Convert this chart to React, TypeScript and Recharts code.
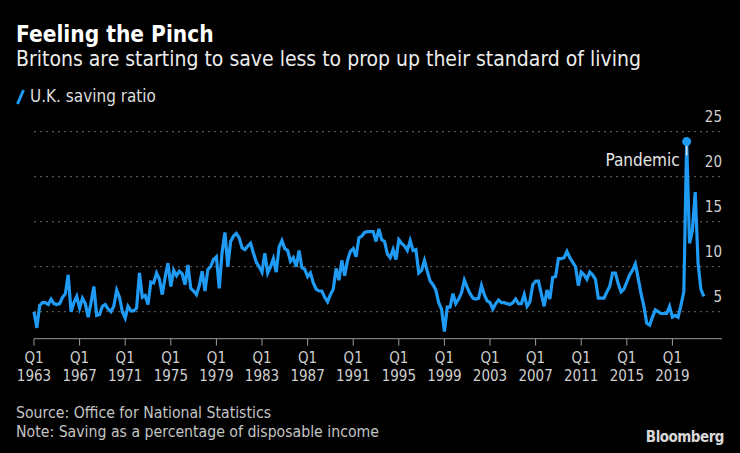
import { LineChart, Line, XAxis, YAxis, CartesianGrid } from 'recharts'

const startYear = 1963

// UK household saving ratio, % of disposable income, one row per year (Q1..Q4)
const savingRatio = [
  5.0, 3.2, 5.7, 6.0,
  6.0, 5.8, 6.4, 5.9,
  5.8, 5.9, 6.6, 7.0,
  9.1, 5.0, 6.0, 6.7,
  5.4, 6.5, 5.9, 4.4,
  6.0, 7.8, 4.6, 4.7,
  5.6, 5.8, 5.3, 5.0,
  5.6, 7.4, 6.6, 5.0,
  4.3, 5.6, 5.1, 5.1,
  5.4, 9.3, 6.6, 6.8,
  5.8, 8.3, 8.2, 9.3,
  8.6, 6.9, 8.8, 10.4,
  7.8, 9.6, 9.0, 9.5,
  9.2, 8.0, 10.2, 7.6,
  7.3, 6.9, 7.9, 9.5,
  7.3, 9.7, 10.0, 10.8,
  11.1, 7.6, 11.6, 13.8,
  10.0, 12.8, 13.4, 13.7,
  13.2, 12.1, 11.9, 12.3,
  12.6, 11.5, 10.5, 10.0,
  9.4, 11.5, 9.3, 10.0,
  10.9, 9.4, 12.2, 12.9,
  12.0, 11.8, 10.6, 11.0,
  10.0, 11.8, 9.9, 9.7,
  8.9, 9.3, 8.2, 7.5,
  7.3, 7.3, 6.6, 6.1,
  6.9, 7.5, 9.8, 8.5,
  10.7, 9.0, 10.7, 11.7,
  12.0, 11.1, 13.2, 13.4,
  13.8, 13.9, 13.9, 13.9,
  12.8, 14.2, 13.0, 12.8,
  11.4, 11.0, 11.9, 10.8,
  13.0, 12.6, 12.3, 11.8,
  12.9, 11.8, 11.9, 9.3,
  9.6, 10.7, 9.5, 8.4,
  8.0, 7.4, 6.0, 5.3,
  2.8, 5.5, 5.5, 7.0,
  5.9, 6.4, 7.1, 8.5,
  7.7, 7.0, 6.5, 6.4,
  6.5, 7.9, 6.9, 6.2,
  6.0, 5.3, 5.9, 6.3,
  6.0, 6.0, 5.9, 5.8,
  6.0, 6.4, 5.9, 5.9,
  6.9, 5.6, 6.1, 8.0,
  8.4, 8.4, 7.0, 5.6,
  7.4, 6.4, 8.8, 8.9,
  10.9, 10.9, 11.0, 11.7,
  11.0, 10.5, 10.0, 7.9,
  9.4, 9.1, 8.6, 9.4,
  9.1, 8.6, 6.5, 6.5,
  6.5, 7.2, 7.8, 9.3,
  9.3, 8.1, 7.2, 7.5,
  8.3, 9.1, 9.6, 10.3,
  8.7, 7.0, 5.6, 3.7,
  3.5, 4.4, 5.2, 5.0,
  4.8, 4.8, 4.8, 5.6,
  4.4, 4.6, 4.4, 5.7,
  7.2, 23.9, 12.6, 14.0,
  18.3, 10.4, 7.5, 6.7,
]

const xTickYears = [1963, 1967, 1971, 1975, 1979, 1983, 1987, 1991, 1995, 1999, 2003, 2007, 2011, 2015, 2019]
const yTicks = [5, 10, 15, 20, 25]
const annotatedQuarter = 'Q2 2020'
const annotationLabel = 'Pandemic'

const data = savingRatio.map((v, i) => ({
  i,
  quarter: `Q${(i % 4) + 1} ${startYear + Math.floor(i / 4)}`,
  value: v,
}))

const xTicks = xTickYears.map((y) => (y - startYear) * 4)

const FONT = "'DejaVu Sans Condensed', 'Liberation Sans Narrow', Roboto, sans-serif"
const BLUE = '#1f9bf5'

const XTick = ({ x, y, payload }: any) => {
  const year = startYear + payload.value / 4
  return (
    <g>
      <text x={x} y={y + 15} textAnchor="middle" fill="#cfcfcf" fontSize={15} fontFamily={FONT}>
        Q1
      </text>
      <text x={x} y={y + 33} textAnchor="middle" fill="#cfcfcf" fontSize={15} fontFamily={FONT}>
        {year}
      </text>
    </g>
  )
}

const YTick = ({ x, y, payload }: any) => (
  <text x={x} y={y - 10} textAnchor="end" fill="#cfcfcf" fontSize={15} fontFamily={FONT}>
    {payload.value}
  </text>
)

const PeakDot = (props: any) => {
  const { cx, cy, payload } = props
  if (payload.quarter !== annotatedQuarter) return <g key={props.key} />
  return (
    <g key={props.key}>
      <line x1={cx} y1={cy} x2={cx} y2={cy + 14} stroke="#e0e0e0" strokeWidth={1.5} />
      <circle cx={cx} cy={cy} r={4.5} fill={BLUE} />
      <text x={cx - 7} y={cy + 24} textAnchor="end" fill="#e6e6e6" fontSize={17} fontFamily={FONT}>
        {annotationLabel}
      </text>
    </g>
  )
}

export default function App() {
  return (
    <div
      style={{
        position: 'fixed',
        left: 0,
        top: 0,
        width: 740,
        height: 453,
        background: '#000',
        fontFamily: FONT,
        color: '#fff',
        overflow: 'hidden',
      }}
    >
      <div style={{ position: 'absolute', left: 16, top: 21, fontSize: 22.5, fontWeight: 700 }}>
        Feeling the Pinch
      </div>
      <div style={{ position: 'absolute', left: 16, top: 47, fontSize: 21, color: '#ececec' }}>
        Britons are starting to save less to prop up their standard of living
      </div>
      <div
        style={{
          position: 'absolute',
          left: 16,
          top: 86,
          fontSize: 17,
          color: '#dcdcdc',
          display: 'flex',
          alignItems: 'center',
        }}
      >
        <svg width={9} height={17} style={{ marginRight: 5 }}>
          <line x1={1.5} y1={16} x2={7.5} y2={2} stroke={BLUE} strokeWidth={3} />
        </svg>
        U.K. saving ratio
      </div>

      <div style={{ position: 'absolute', left: 0, top: 0 }}>
        <LineChart
          width={740}
          height={453}
          data={data}
          margin={{ top: 131.7, right: 0, bottom: 74.3, left: 34 }}
        >
          <CartesianGrid
            vertical={false}
            stroke="#6a6a6a"
            strokeDasharray="2 4"
            horizontalValues={yTicks}
          />
          <XAxis
            dataKey="i"
            type="number"
            domain={[0, 241.4]}
            ticks={xTicks}
            tick={<XTick />}
            interval={0}
            axisLine={{ stroke: '#9a9a9a' }}
            tickLine={{ stroke: '#9a9a9a' }}
            tickSize={7}
            height={40}
          />
          <YAxis
            orientation="right"
            domain={[2, 25]}
            ticks={yTicks}
            tick={<YTick />}
            axisLine={false}
            tickLine={false}
            tickSize={0}
            tickMargin={0}
            width={18}
            allowDataOverflow
          />
          <Line
            type="linear"
            dataKey="value"
            stroke={BLUE}
            strokeWidth={3.2}
            dot={<PeakDot />}
            activeDot={false}
            isAnimationActive={false}
          />
        </LineChart>
      </div>

      <div style={{ position: 'absolute', left: 16, top: 403, fontSize: 15.7, color: '#c4c4c4', lineHeight: '19px' }}>
        Source: Office for National Statistics
        <br />
        Note: Saving as a percentage of disposable income
      </div>
      <div
        style={{
          position: 'absolute',
          right: 16,
          top: 428,
          fontSize: 15,
          fontWeight: 700,
          color: '#d8d8d8',
          letterSpacing: -0.5,
        }}
      >
        Bloomberg
      </div>
    </div>
  )
}
